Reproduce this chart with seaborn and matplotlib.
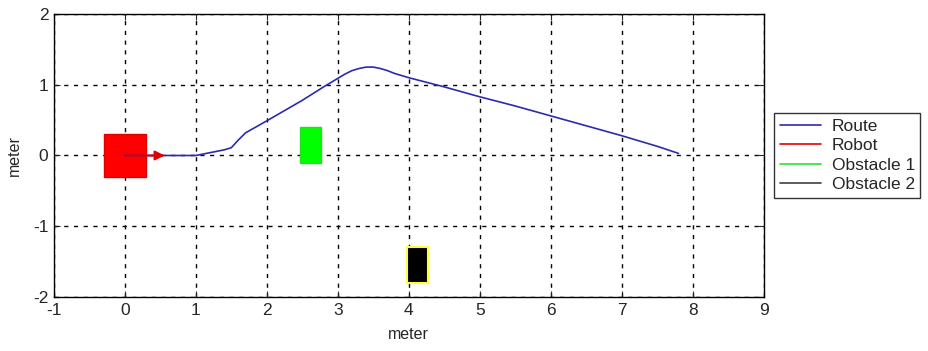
import numpy as np
import pandas as pd
import matplotlib.pyplot as plt
import seaborn as sns
from matplotlib.patches import Rectangle

# route
route_x = [0.0, 0.5, 1.0, 1.2, 1.4, 1.5, 1.6, 1.7, 2.0, 2.5, 2.8, 3.0, 3.1, 3.2, 3.3, 3.4, 3.5, 3.6, 3.7, 3.8, 4.0, 4.5, 5.0, 5.5, 6.0, 6.5, 7.0, 7.5, 7.8]
route_y = [0.0, 0.0, 0.0, 0.04, 0.08, 0.11, 0.22, 0.32, 0.49, 0.78, 0.97, 1.09, 1.15, 1.20, 1.23, 1.25, 1.25, 1.23, 1.20, 1.16, 1.10, 0.97, 0.83, 0.70, 0.56, 0.42, 0.28, 0.13, 0.03]

robot_box = (-0.3, -0.3, 0.6, 0.6)      # x, y, w, h
obstacle1_box = (2.47, -0.1, 0.30, 0.5)
obstacle2_box = (3.97, -1.8, 0.30, 0.5)
heading_x = [0.0, 0.6]
heading_y = [0.0, 0.0]

x_ticks = list(range(-1, 10))
y_ticks = list(range(-2, 3))
legend_labels = ["Route", "Robot", "Obstacle 1", "Obstacle 2"]
legend_colors = ["#2b2bb0", "#e00000", "#30e030", "#404040"]

sns.set_style("white")
plt.rcParams['font.family'] = ['Liberation Sans', 'DejaVu Sans']
plt.rcParams['axes.unicode_minus'] = False

fig = plt.figure(figsize=(9.29, 3.51), dpi=100)
ax = fig.add_axes([0.058, 0.154, 0.764, 0.806])

df = pd.DataFrame({"x": route_x, "y": route_y})

ax.add_patch(Rectangle(robot_box[:2], robot_box[2], robot_box[3], facecolor="#ff0000", edgecolor="#e00000", zorder=2))
ax.add_patch(Rectangle(obstacle1_box[:2], obstacle1_box[2], obstacle1_box[3], facecolor="#00ff00", edgecolor="#20e020", zorder=2))
ax.add_patch(Rectangle(obstacle2_box[:2], obstacle2_box[2], obstacle2_box[3], facecolor="black", edgecolor="#ffff40", lw=1.5, zorder=2))

sns.lineplot(data=df, x="x", y="y", sort=False, ax=ax, color=legend_colors[0], lw=1.2, zorder=4)
ax.annotate("", xy=(heading_x[1], heading_y[1]), xytext=(heading_x[0], heading_y[0]),
            arrowprops=dict(arrowstyle="-|>", color="#e00000", lw=1.5, mutation_scale=14), zorder=5)

ax.set_xlim(-1, 9)
ax.set_ylim(-2, 2)
ax.set_xticks(x_ticks)
ax.set_yticks(y_ticks)
ax.grid(True, color="black", linestyle=(0, (3, 4)), lw=1.0)
ax.set_axisbelow(True)
ax.tick_params(direction="in", length=4, labelsize=12.5, top=True, right=True, bottom=True, left=True, pad=4)
for s in ax.spines.values():
    s.set_color("black")
    s.set_linewidth(1.0)
ax.set_xlabel("meter", fontsize=11.5, labelpad=7)
ax.set_ylabel("meter", fontsize=11.5, labelpad=8)

handles = [plt.Line2D([], [], color=c, lw=1.2) for c in legend_colors]
leg = ax.legend(handles, legend_labels, loc="center left", bbox_to_anchor=(1.003, 0.5),
                frameon=True, fontsize=12.5, fancybox=False, handlelength=2.4,
                borderpad=0.3, labelspacing=0.25, handletextpad=0.6)
leg.get_frame().set_edgecolor("black")
leg.get_frame().set_linewidth(1.0)

fig.savefig("out.png", dpi=100)
